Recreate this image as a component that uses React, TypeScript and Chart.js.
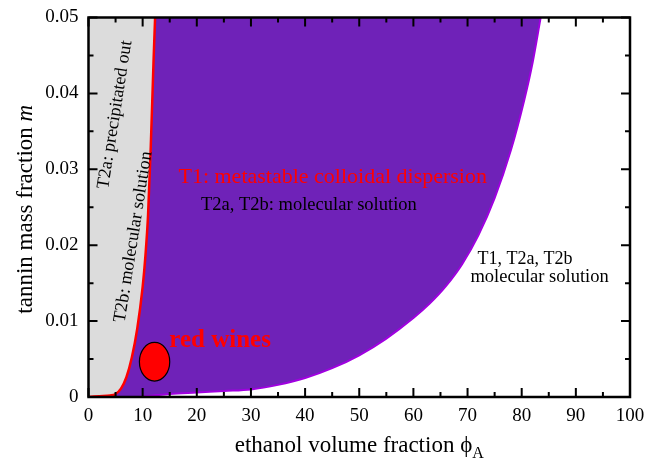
import React, { useEffect, useRef } from 'react';
import { Chart, registerables } from 'chart.js';

Chart.register(...registerables);

// ---- data ----
// red boundary (T2a precipitation line)
const redPhi = [0, 2, 4, 5, 6, 7, 8, 9, 10, 10.5, 11, 11.5, 12, 12.3];
const redM = [0, 0.0001, 0.0002, 0.0004, 0.0011, 0.0026, 0.0052, 0.009, 0.0145, 0.0185, 0.024, 0.033, 0.044, 0.05];
// purple boundary (T1 colloidal dispersion limit)
const purplePhi = [0, 9, 12, 15, 20, 25, 30, 35, 40, 45, 50, 55, 60, 63, 66, 69, 72, 75, 78, 80.5, 82, 83.5];
const purpleM = [0, 0, 0.0002, 0.0004, 0.0006, 0.0008, 0.001, 0.0016, 0.0025, 0.0038, 0.0055, 0.0077, 0.0104, 0.0123, 0.0146, 0.0175, 0.0213, 0.0262, 0.0325, 0.0392, 0.044, 0.05];
// red wines region (phi range, m range)
const winePhiRange = [9.4, 15.0];
const wineMRange = [0.0021, 0.0072];
// axis ticks
const xTickValues = [0, 10, 20, 30, 40, 50, 60, 70, 80, 90, 100];
const yTickValues = [0, 0.01, 0.02, 0.03, 0.04, 0.05];

const SERIF = "'Liberation Serif', 'Times New Roman', serif";

type Note = { text: string; phi: number; m: number; color: string; font: string; rot: number };
const notes: Note[] = [
  { text: 'T2a: precipitated out', phi: 4.9, m: 0.0372, color: '#000', font: `18px ${SERIF}`, rot: -81 },
  { text: 'T2b: molecular solution', phi: 8.3, m: 0.0211, color: '#000', font: `18px ${SERIF}`, rot: -81 },
  { text: 'T1: metastable colloidal dispersion', phi: 45.1, m: 0.0289, color: '#ff0000', font: `22px ${SERIF}`, rot: 0 },
  { text: 'T2a, T2b: molecular solution', phi: 40.7, m: 0.0253, color: '#000', font: `18.5px ${SERIF}`, rot: 0 },
  { text: 'T1, T2a, T2b', phi: 80.6, m: 0.0182, color: '#000', font: `18px ${SERIF}`, rot: 0 },
  { text: 'molecular solution', phi: 83.3, m: 0.0158, color: '#000', font: `18.5px ${SERIF}`, rot: 0 },
  { text: 'red wines', phi: 24.3, m: 0.0074, color: '#ff0000', font: `bold 25px ${SERIF}`, rot: 0 },
];

const toPoints = (xs: number[], ys: number[]) => xs.map((v, i) => ({ x: v, y: ys[i] }));

const decorPlugin = {
  id: 'phaseDecor',
  afterDatasetsDraw(chart: any) {
    const { ctx, chartArea: ca, scales } = chart;
    const xs = scales.x;
    const ys = scales.y;
    ctx.save();
    // red wines ellipse
    const cx = xs.getPixelForValue((winePhiRange[0] + winePhiRange[1]) / 2);
    const cy = ys.getPixelForValue((wineMRange[0] + wineMRange[1]) / 2);
    const rx = Math.abs(xs.getPixelForValue(winePhiRange[1]) - xs.getPixelForValue(winePhiRange[0])) / 2;
    const ry = Math.abs(ys.getPixelForValue(wineMRange[1]) - ys.getPixelForValue(wineMRange[0])) / 2;
    ctx.beginPath();
    ctx.ellipse(cx, cy, rx, ry, 0, 0, Math.PI * 2);
    ctx.fillStyle = '#ff0000';
    ctx.fill();
    ctx.lineWidth = 1.2;
    ctx.strokeStyle = '#000';
    ctx.stroke();

    // annotations
    for (const n of notes) {
      const px = xs.getPixelForValue(n.phi);
      const py = ys.getPixelForValue(n.m);
      ctx.save();
      ctx.translate(px, py);
      ctx.rotate((n.rot * Math.PI) / 180);
      ctx.font = n.font;
      ctx.fillStyle = n.color;
      ctx.textAlign = 'center';
      ctx.textBaseline = 'middle';
      ctx.fillText(n.text, 0, 0);
      ctx.restore();
    }

    // frame
    ctx.lineWidth = 2.5;
    ctx.strokeStyle = '#000';
    ctx.strokeRect(ca.left, ca.top, ca.right - ca.left, ca.bottom - ca.top);

    // inward ticks on all sides
    ctx.lineWidth = 2;
    const major = 9;
    const minor = 5;
    const xMajor = xs.ticks.map((t: any) => t.value);
    const yMajor = ys.ticks.map((t: any) => t.value);
    const drawX = (v: number, len: number) => {
      const p = xs.getPixelForValue(v);
      ctx.beginPath();
      ctx.moveTo(p, ca.bottom);
      ctx.lineTo(p, ca.bottom - len);
      ctx.moveTo(p, ca.top);
      ctx.lineTo(p, ca.top + len);
      ctx.stroke();
    };
    const drawY = (v: number, len: number) => {
      const p = ys.getPixelForValue(v);
      ctx.beginPath();
      ctx.moveTo(ca.left, p);
      ctx.lineTo(ca.left + len, p);
      ctx.moveTo(ca.right, p);
      ctx.lineTo(ca.right - len, p);
      ctx.stroke();
    };
    xMajor.forEach((v: number, i: number) => {
      drawX(v, major);
      if (i < xMajor.length - 1) drawX((v + xMajor[i + 1]) / 2, minor);
    });
    yMajor.forEach((v: number, i: number) => {
      drawY(v, major);
      if (i < yMajor.length - 1) drawY((v + yMajor[i + 1]) / 2, minor);
    });

    // axis titles
    ctx.fillStyle = '#000';
    ctx.textBaseline = 'alphabetic';
    ctx.textAlign = 'left';
    // x title
    const xt1 = 'ethanol volume fraction ';
    const xt2 = 'ϕ';
    const xt3 = 'A';
    ctx.font = `23px ${SERIF}`;
    const w1 = ctx.measureText(xt1).width;
    const w2 = ctx.measureText(xt2).width;
    ctx.font = `16px ${SERIF}`;
    const w3 = ctx.measureText(xt3).width;
    const total = w1 + w2 + w3;
    const sx = (ca.left + ca.right) / 2 - total / 2;
    const by = ca.bottom + 55;
    ctx.font = `23px ${SERIF}`;
    ctx.fillText(xt1, sx, by);
    ctx.fillText(xt2, sx + w1, by);
    ctx.font = `16px ${SERIF}`;
    ctx.fillText(xt3, sx + w1 + w2, by + 6);

    // y title
    ctx.save();
    ctx.translate(32, (ca.top + ca.bottom) / 2 + 2);
    ctx.rotate(-Math.PI / 2);
    const yt1 = 'tannin mass fraction ';
    const yt2 = 'm';
    ctx.font = `23px ${SERIF}`;
    const v1 = ctx.measureText(yt1).width;
    ctx.font = `italic 23px ${SERIF}`;
    const v2 = ctx.measureText(yt2).width;
    const sy = -(v1 + v2) / 2;
    ctx.font = `23px ${SERIF}`;
    ctx.fillText(yt1, sy, 0);
    ctx.font = `italic 23px ${SERIF}`;
    ctx.fillText(yt2, sy + v1, 0);
    ctx.restore();

    ctx.restore();
  },
};

export default function App() {
  const ref = useRef<HTMLCanvasElement | null>(null);

  useEffect(() => {
    document.body.style.margin = '0';
    const canvas = ref.current;
    if (!canvas) return;
    const chart = new Chart(canvas, {
      type: 'line',
      data: {
        datasets: [
          {
            label: 'T2a boundary',
            data: toPoints(redPhi, redM),
            borderColor: '#ff0000',
            borderWidth: 2.5,
            backgroundColor: '#dcdcdc',
            fill: 'end',
            pointRadius: 0,
            cubicInterpolationMode: 'monotone',
            order: 0,
          },
          {
            label: 'T1 boundary',
            data: toPoints(purplePhi, purpleM),
            borderColor: '#a000e0',
            borderWidth: 2,
            backgroundColor: '#6f22b8',
            fill: 'end',
            pointRadius: 0,
            cubicInterpolationMode: 'monotone',
            order: 1,
          },
        ],
      },
      options: {
        animation: false,
        responsive: false,
        devicePixelRatio: 1,
        layout: { padding: { top: 17.5, right: 17, left: 0, bottom: 0 } },
        plugins: { legend: { display: false }, tooltip: { enabled: false } },
        scales: {
          x: {
            type: 'linear',
            min: 0,
            max: 100,
            afterBuildTicks: (s: any) => {
              s.ticks = xTickValues.map((v) => ({ value: v }));
            },
            afterFit: (s: any) => {
              s.height = 65;
              s.paddingLeft = 0;
              s.paddingRight = 0;
            },
            grid: { display: false, drawTicks: false },
            border: { display: false },
            ticks: {
              padding: 8,
              color: '#000',
              font: { family: SERIF, size: 19 },
              maxRotation: 0,
              callback: (v: any) => String(v),
            },
          },
          y: {
            type: 'linear',
            min: 0,
            max: 0.05,
            afterBuildTicks: (s: any) => {
              s.ticks = yTickValues.map((v) => ({ value: v }));
            },
            afterFit: (s: any) => {
              s.width = 88.5;
              s.paddingTop = 0;
              s.paddingBottom = 0;
            },
            grid: { display: false, drawTicks: false },
            border: { display: false },
            ticks: {
              padding: 10,
              color: '#000',
              font: { family: SERIF, size: 19 },
              callback: (v: any) => (Number(v) === 0 ? '0' : Number(v).toFixed(2)),
            },
          },
        },
      },
      plugins: [decorPlugin],
    } as any);
    return () => chart.destroy();
  }, []);

  return (
    <div style={{ position: 'absolute', left: 0, top: 0, width: 647, height: 462 }}>
      <canvas ref={ref} width={647} height={462} style={{ display: 'block' }} />
    </div>
  );
}
